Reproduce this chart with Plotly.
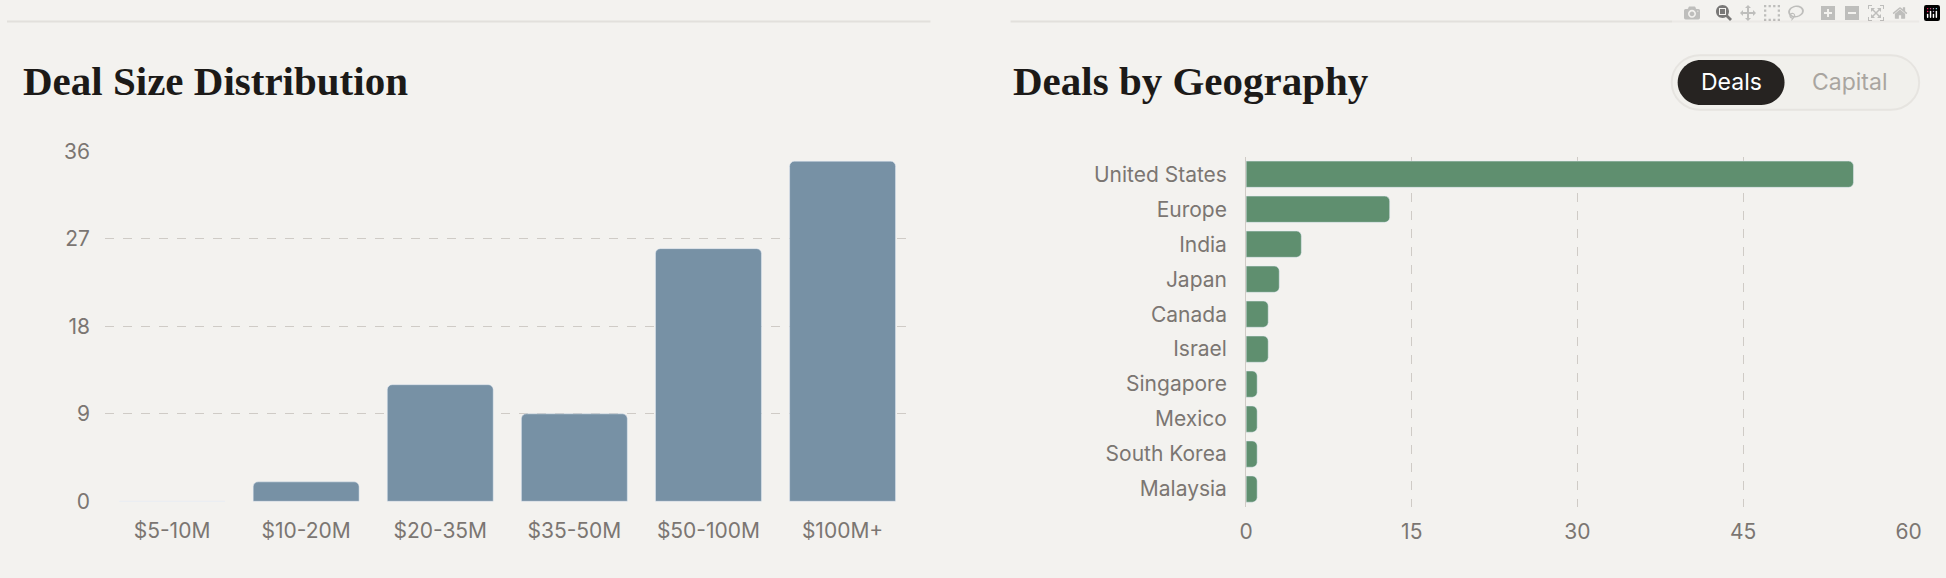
import plotly.graph_objects as go

W, H = 1946, 578
size_cats = ["$5-10M", "$10-20M", "$20-35M", "$35-50M", "$50-100M", "$100M+"]
size_vals = [0, 2, 12, 9, 26, 35]
size_ticks = [0, 9, 18, 27, 36]
geo_cats = ["United States", "Europe", "India", "Japan", "Canada", "Israel",
            "Singapore", "Mexico", "South Korea", "Malaysia"]
geo_vals = [55, 13, 5, 3, 2, 2, 1, 1, 1, 1]
geo_ticks = [0, 15, 30, 45, 60]

BG = "#f3f2ef"
TICK = "#7b7672"
GRID = "#cfcbc6"
TICKFONT = dict(family="Inter", size=21, color=TICK)

def px(x): return x / W
def py(y): return 1 - y / H

def pill(x0, y0, x1, y1):
    r = (y1 - y0) / 2
    k = 0.5523 * r
    def P(x, y): return f"{px(x):.5f},{py(y):.5f}"
    d = f"M {P(x0+r, y0)} L {P(x1-r, y0)} "
    d += f"C {P(x1-r+k, y0)} {P(x1, y0+r-k)} {P(x1, y0+r)} "
    d += f"C {P(x1, y0+r+k)} {P(x1-r+k, y1)} {P(x1-r, y1)} "
    d += f"L {P(x0+r, y1)} "
    d += f"C {P(x0+r-k, y1)} {P(x0, y0+r+k)} {P(x0, y0+r)} "
    d += f"C {P(x0, y0+r-k)} {P(x0+r-k, y0)} {P(x0+r, y0)} Z"
    return d

fig = go.Figure()
fig.add_trace(go.Bar(x=size_cats, y=size_vals, marker_color="#7791a5",
                     width=0.79, xaxis="x", yaxis="y", hoverinfo="x+y"))
fig.add_trace(go.Bar(x=geo_vals, y=geo_cats, orientation="h", marker_color="#5f8f6f",
                     width=0.75, xaxis="x2", yaxis="y2", hoverinfo="x+y"))

fig.update_layout(
    width=W, height=H, margin=dict(l=0, r=0, t=0, b=0),
    paper_bgcolor=BG, plot_bgcolor=BG, showlegend=False, barcornerradius=5,
    xaxis=dict(domain=[px(99), px(912)], anchor="y", tickfont=TICKFONT,
               showgrid=False, showline=False, ticks="", ticklabelstandoff=14),
    yaxis=dict(domain=[py(511), py(145)], anchor="x", range=[-0.05, 36.05], tickvals=size_ticks,
               tickfont=TICKFONT, showgrid=True, gridcolor=GRID, griddash="dash",
               gridwidth=1, zeroline=False, ticklabelstandoff=14),
    xaxis2=dict(domain=[px(1252), px(1922)], anchor="y2", range=[0, 60.05], tickvals=geo_ticks,
                tickfont=TICKFONT, showgrid=True, gridcolor=GRID, griddash="dash",
                zeroline=False, ticklabelstandoff=10),
    yaxis2=dict(domain=[py(516), py(151)], anchor="x2", autorange="reversed",
                tickfont=TICKFONT, showgrid=False, ticklabelstandoff=14,
                showline=True, linecolor=GRID, linewidth=1),
    shapes=[
        dict(type="line", xref="paper", yref="paper", x0=0, x1=px(933), y0=py(10), y1=py(10),
             line=dict(color="#e2e0dc", width=2)),
        dict(type="line", xref="paper", yref="paper", x0=px(1014), x1=px(1932), y0=py(10), y1=py(10),
             line=dict(color="#e2e0dc", width=2)),
        dict(type="path", xref="paper", yref="paper", path=pill(1682, 45, 1932, 102),
             fillcolor="#f1f0ec", line=dict(color="#e6e4e0", width=2)),
        dict(type="path", xref="paper", yref="paper", path=pill(1688, 50, 1796, 97),
             fillcolor="#262321", line=dict(width=0)),
    ],
    annotations=[
        dict(text="<b>Deal Size Distribution</b>", xref="paper", yref="paper", x=px(14), y=py(72),
             xanchor="left", yanchor="middle", showarrow=False,
             font=dict(family="Liberation Serif", size=41, color="#1c1a18")),
        dict(text="<b>Deals by Geography</b>", xref="paper", yref="paper", x=px(1014), y=py(72),
             xanchor="left", yanchor="middle", showarrow=False,
             font=dict(family="Liberation Serif", size=41, color="#1c1a18")),
        dict(text="Deals", xref="paper", yref="paper", x=px(1742), y=py(73),
             xanchor="center", yanchor="middle", showarrow=False,
             font=dict(family="Inter", size=23, color="#ffffff")),
        dict(text="Capital", xref="paper", yref="paper", x=px(1862), y=py(73),
             xanchor="center", yanchor="middle", showarrow=False,
             font=dict(family="Inter", size=23, color="#a9a5a0")),
    ],
)
fig.write_html("out.html", post_script="document.body.style.margin='0';document.body.style.overflow='hidden';")
